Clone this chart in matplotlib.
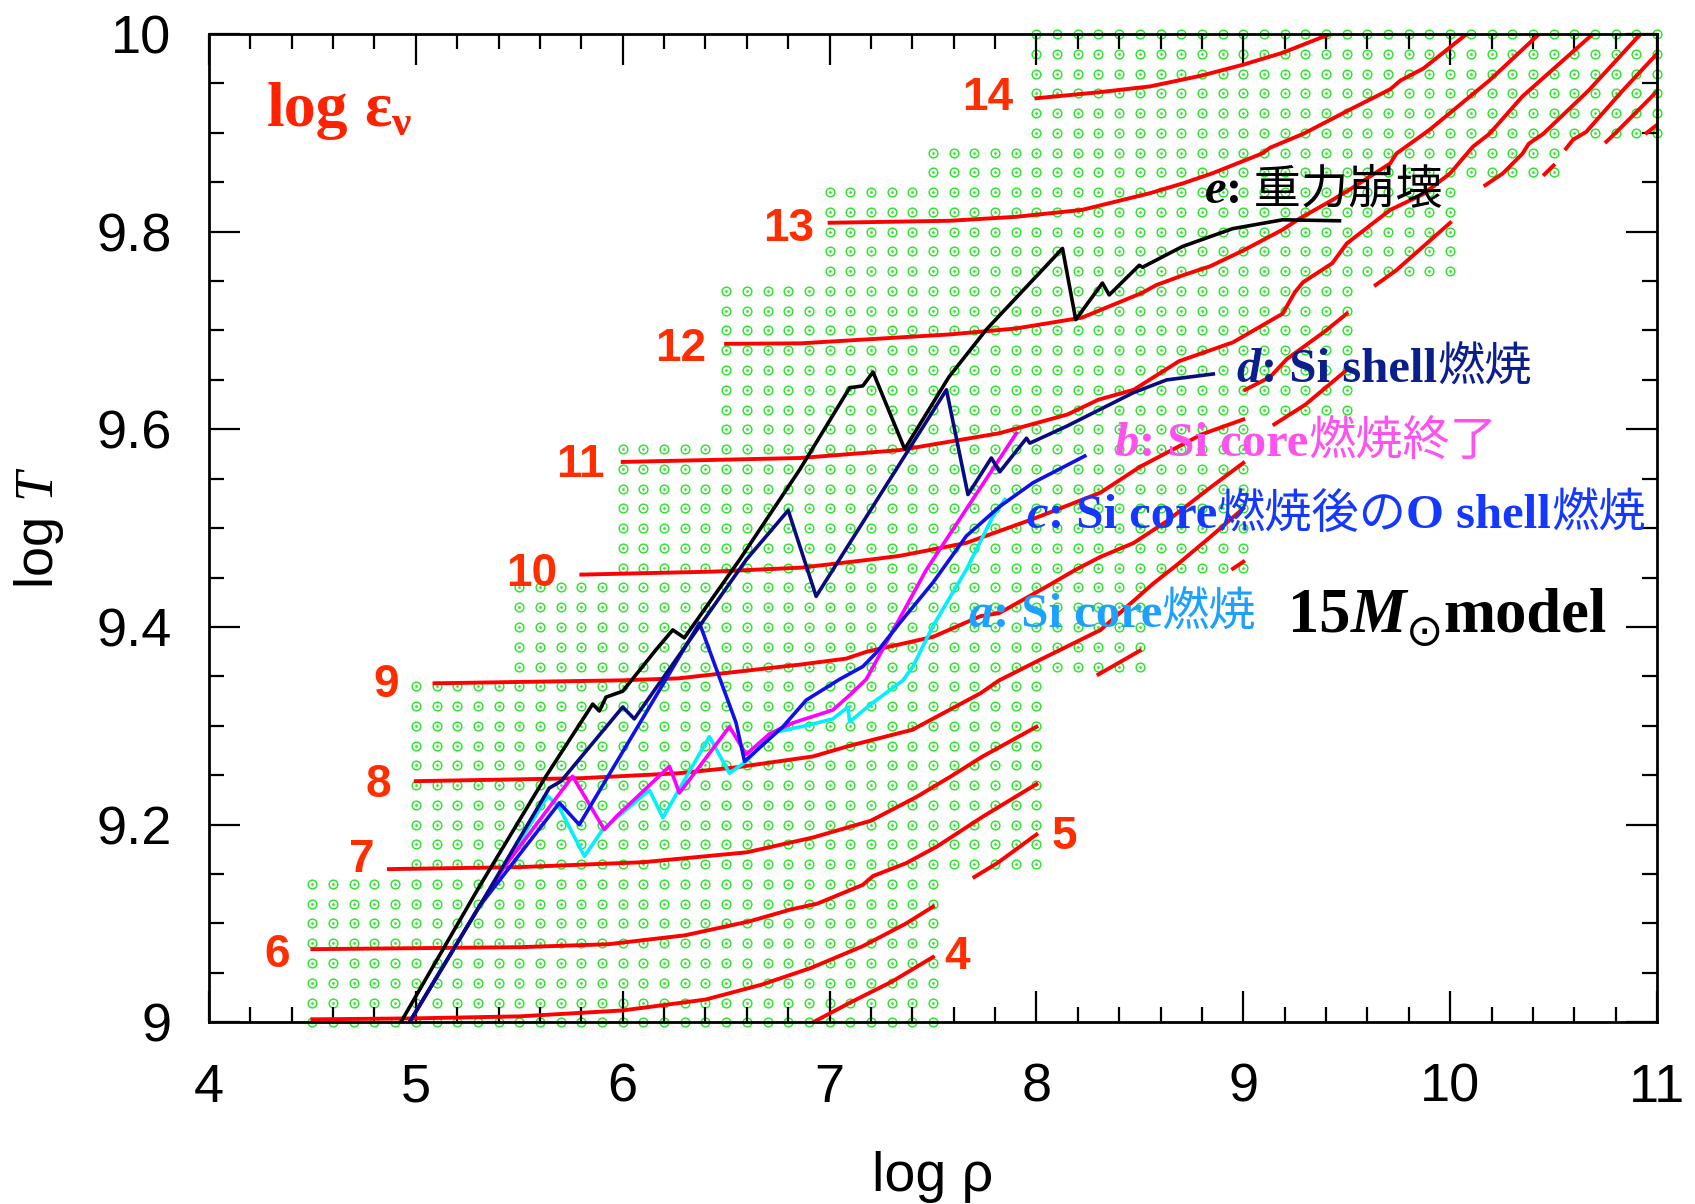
import numpy as np
import matplotlib
matplotlib.use('Agg')
import matplotlib.pyplot as plt
from matplotlib import transforms
from matplotlib.ticker import MultipleLocator, FuncFormatter

plt.rcParams['font.family'] = ['Liberation Sans', 'DejaVu Sans']
plt.rcParams['mathtext.fontset'] = 'custom'
plt.rcParams['mathtext.it'] = 'Liberation Serif:italic'
plt.rcParams['mathtext.rm'] = 'Liberation Sans'

# calculated grid: blocks of rows (log T) with their log rho limits
grid_left_Ttop = [9.14, 9.34, 9.44, 9.58, 9.74, 9.84, 9.88, 10.0]
grid_left_rho = [4.5, 5.0, 5.5, 6.0, 6.5, 7.0, 7.5, 8.0]
grid_right_Ttop = [9.14, 9.34, 9.44, 9.60, 9.74, 9.84, 9.88, 10.0]
grid_right_rho = [7.5, 8.0, 8.5, 9.0, 9.5, 10.0, 10.5, 11.0]
grid_dT = 0.02
grid_drho = 0.1

# log eps_nu contours (log rho, log T), one list per drawn piece
eps4 = [(6.92, 9.0), (7.10, 9.020), (7.30, 9.041), (7.50, 9.066)]
eps5_a = [(4.5, 9.003), (5.0, 9.004), (5.5, 9.006), (6.0, 9.012), (6.4, 9.023), (6.67, 9.038),
          (6.91, 9.055), (7.16, 9.077), (7.37, 9.100), (7.5, 9.117)]
eps5_b = [(7.70, 9.147), (7.81, 9.161), (8.0, 9.19)]
eps6 = [(4.5, 9.074), (5.0, 9.075), (5.5, 9.076), (5.93, 9.079), (6.30, 9.088), (6.61, 9.102),
        (6.81, 9.114), (6.94, 9.120), (7.16, 9.139), (7.21, 9.148), (7.37, 9.161), (7.52, 9.178),
        (7.74, 9.208), (8.0, 9.241)]
eps7_a = [(4.87, 9.155), (5.5, 9.157), (6.1, 9.162), (6.6, 9.172), (6.92, 9.187), (7.2, 9.204),
          (7.42, 9.228), (7.58, 9.248), (7.74, 9.269), (8.0, 9.299)]
eps7_b = [(8.30, 9.352), (8.5, 9.376)]
eps7_c = [(8.95, 9.459), (9.0, 9.466)]
eps7_d = [(10.95, 9.90), (11.0, 9.908)]
eps8_a = [(5.0, 9.244), (5.8, 9.247), (6.27, 9.252), (6.55, 9.258), (6.92, 9.269), (7.1, 9.280),
          (7.40, 9.296), (7.73, 9.333), (7.82, 9.346), (8.0, 9.365), (8.31, 9.397), (8.5, 9.432),
          (8.565, 9.444), (8.68, 9.463), (8.84, 9.491), (9.0, 9.52)]
eps8_b = [(10.755, 9.891), (10.80, 9.900), (11.0, 9.942)]
eps9_a = [(5.09, 9.343), (5.99, 9.346), (6.27, 9.348), (6.86, 9.362), (7.08, 9.368), (7.18, 9.375),
          (7.5, 9.39), (7.73, 9.411), (7.82, 9.414), (8.05, 9.441), (8.19, 9.458), (8.31, 9.471),
          (8.47, 9.485), (8.63, 9.507), (8.84, 9.541), (9.0, 9.566)]
eps9_b = [(9.15, 9.605), (9.30, 9.625), (9.50, 9.66)]
eps9_c = [(10.456, 9.858), (10.5, 9.867)]
eps9_d = [(10.56, 9.884), (10.594, 9.893), (10.658, 9.901), (10.835, 9.943), (11.0, 9.980)]
eps10_a = [(5.80, 9.453), (6.435, 9.456), (6.86, 9.46), (7.19, 9.468), (7.34, 9.472), (7.66, 9.485),
           (7.98, 9.509), (8.31, 9.536), (8.5, 9.562), (8.8, 9.595), (9.0, 9.61)]
eps10_b = [(9.01, 9.64), (9.13, 9.653), (9.21, 9.671), (9.40, 9.70), (9.5, 9.717)]
eps10_c = [(9.64, 9.746), (9.74, 9.761), (10.0, 9.809)]
eps10_d = [(10.17, 9.847), (10.255, 9.859), (10.35, 9.879), (10.38, 9.889), (10.45, 9.899),
           (10.67, 9.943), (10.92, 10.0)]
eps11 = [(6.0, 9.567), (6.86, 9.571), (7.34, 9.579), (7.82, 9.596), (8.15, 9.615), (8.30, 9.63),
         (8.47, 9.64), (8.69, 9.669), (8.95, 9.688), (9.19, 9.717), (9.25, 9.739), (9.29, 9.749),
         (9.43, 9.768), (9.50, 9.788), (9.71, 9.822), (9.87, 9.838), (10.0, 9.859), (10.11, 9.886),
         (10.19, 9.899), (10.35, 9.937), (10.69, 10.0)]
eps12 = [(6.5, 9.6865), (6.86, 9.687), (7.58, 9.696), (7.90, 9.702), (8.22, 9.713), (8.51, 9.738),
         (8.58, 9.746), (8.71, 9.756), (8.84, 9.765), (9.0, 9.781), (9.19, 9.802), (9.27, 9.813),
         (9.43, 9.832), (9.51, 9.842), (9.71, 9.869), (9.74, 9.879), (9.90, 9.903), (10.19, 9.953),
         (10.43, 10.0)]
eps13 = [(7.0, 9.809), (7.58, 9.811), (7.90, 9.815), (8.22, 9.822), (8.55, 9.839), (8.71, 9.849),
         (8.85, 9.859), (9.09, 9.879), (9.13, 9.885), (9.29, 9.899), (9.52, 9.924), (9.71, 9.944),
         (9.76, 9.953), (9.87, 9.965), (10.08, 10.0)]
eps14 = [(8.0, 9.935), (8.30, 9.941), (8.55, 9.947), (8.80, 9.958), (9.0, 9.969), (9.19, 9.981),
         (9.42, 10.0)]
eps_levels = ['4', '5', '6', '7', '8', '9', '10', '11', '12', '13', '14']

# central evolution tracks (log rho, log T)
track_a = [(4.969, 9.0), (5.306, 9.117), (5.45, 9.165), (5.637, 9.229), (5.694, 9.217), (5.815, 9.168),
           (5.903, 9.195), (6.129, 9.235), (6.194, 9.207), (6.419, 9.289), (6.516, 9.252),
           (6.597, 9.264), (6.726, 9.293), (6.903, 9.301), (7.016, 9.307), (7.089, 9.319),
           (7.097, 9.304), (7.194, 9.321), (7.355, 9.346), (7.403, 9.36), (7.5, 9.401),
           (7.661, 9.458), (7.79, 9.512), (7.847, 9.529)]
track_b = [(4.969, 9.0), (5.306, 9.117), (5.42, 9.155), (5.758, 9.249), (5.911, 9.195), (5.968, 9.208),
           (6.226, 9.259), (6.274, 9.232), (6.516, 9.299), (6.597, 9.271), (6.71, 9.292),
           (6.823, 9.303), (7.016, 9.316), (7.097, 9.331), (7.177, 9.347), (7.468, 9.458),
           (7.903, 9.596)]
track_c = [(4.969, 9.0), (5.306, 9.117), (5.694, 9.222), (5.79, 9.20), (6.371, 9.404), (6.548, 9.303),
           (6.589, 9.264), (6.774, 9.299), (6.887, 9.326), (7.048, 9.347), (7.161, 9.36),
           (7.226, 9.374), (7.339, 9.404), (7.5, 9.445), (7.661, 9.492), (7.823, 9.522),
           (7.984, 9.546), (8.234, 9.573)]
track_d = [(4.969, 9.0), (5.306, 9.117), (5.645, 9.237), (5.702, 9.244), (6.0, 9.319), (6.056, 9.307),
           (6.597, 9.468), (6.80, 9.518), (6.935, 9.431), (7.565, 9.64), (7.669, 9.534),
           (7.782, 9.571), (7.823, 9.557), (7.952, 9.591), (7.968, 9.586), (8.145, 9.603),
           (8.468, 9.637), (8.629, 9.65), (8.855, 9.656)]
track_e = [(4.927, 9.0), (5.306, 9.137), (5.629, 9.249), (5.855, 9.322), (5.887, 9.315), (5.919, 9.329),
           (6.0, 9.335), (6.161, 9.377), (6.242, 9.397), (6.298, 9.389), (6.565, 9.468),
           (6.855, 9.559), (7.097, 9.642), (7.161, 9.644), (7.21, 9.658), (7.363, 9.58),
           (7.577, 9.653), (7.758, 9.701), (8.126, 9.783), (8.19, 9.711), (8.319, 9.748),
           (8.352, 9.736), (8.497, 9.766), (8.513, 9.764), (8.706, 9.785), (8.948, 9.803),
           (9.19, 9.812), (9.465, 9.811)]

fig = plt.figure(figsize=(16.95, 12.04), dpi=100)
ax = fig.add_axes([209 / 1695, 1 - 1022.3 / 1204, 1448 / 1695, 988.3 / 1204])
ax.set_xlim(4, 11)
ax.set_ylim(9, 10)

# grid points
gx, gy = [], []
for i in range(51):
    T = round(9.0 + i * grid_dT, 2)
    lo = grid_left_rho[np.searchsorted(grid_left_Ttop, T - 1e-9)]
    hi = grid_right_rho[np.searchsorted(grid_right_Ttop, T - 1e-9)]
    n = int(round((hi - lo) / grid_drho))
    for k in range(n + 1):
        gx.append(lo + k * grid_drho)
        gy.append(T)
green = '#22e622'
ax.plot(gx, gy, 'o', mfc='none', mec=green, ms=6.3, mew=1.0, clip_on=False, zorder=1)
ax.plot(gx, gy, 'o', mfc=green, mec='none', ms=1.9, clip_on=False, zorder=1)

pieces = [eps4, eps5_a, eps5_b, eps6, eps7_a, eps7_b, eps7_c, eps7_d, eps8_a, eps8_b,
          eps9_a, eps9_b, eps9_c, eps9_d, eps10_a, eps10_b, eps10_c, eps10_d,
          eps11, eps12, eps13, eps14]
for p in pieces:
    xs, ys = zip(*p)
    ax.plot(xs, ys, color='#ff0000', lw=2.8, zorder=2)

lab_pos = [(7.617, 9.071), (8.137, 9.193), (4.327, 9.073), (4.74, 9.169), (4.817, 9.245),
           (4.857, 9.346), (5.558, 9.459), (5.794, 9.569), (6.28, 9.686), (6.80, 9.808),
           (7.766, 9.94)]
for s, (x, y) in zip(eps_levels, lab_pos):
    ax.text(x, y, s, color='#ff2d00', fontsize=33, fontweight='bold', ha='center',
            va='center_baseline', zorder=4)

for tr, col in [(track_a, '#00f0ff'), (track_b, '#ff00ff'), (track_c, '#1010e8'),
                (track_d, '#0a0a80'), (track_e, '#000000')]:
    xs, ys = zip(*tr)
    ax.plot(xs, ys, color=col, lw=2.6, zorder=3)

# axes styling
ax.xaxis.set_major_locator(MultipleLocator(1))
ax.xaxis.set_minor_locator(MultipleLocator(0.2))
ax.yaxis.set_major_locator(MultipleLocator(0.2))
ax.yaxis.set_minor_locator(MultipleLocator(0.05))
ax.yaxis.set_major_formatter(FuncFormatter(lambda v, p: f'{v:g}'))
ax.tick_params(which='both', direction='in', top=True, right=True, width=1.6)
ax.tick_params(which='major', length=22, labelsize=39)
ax.tick_params(which='minor', length=10.5)
ax.tick_params(axis='x', pad=29)
ax.tick_params(axis='y', pad=27)
for sp in ax.spines.values():
    sp.set_linewidth(2)

ax.set_xlabel('log ρ', fontsize=40)
ax.xaxis.set_label_coords(0.5, -0.13)
ax.set_ylabel('log $\\mathit{T}$', fontsize=39)
ax.yaxis.set_label_coords(-0.099, 0.5)

renderer = fig.canvas.get_renderer()
fonts = {
    'b': dict(family='Liberation Serif', weight='bold'),
    'bi': dict(family='Liberation Serif', weight='bold', style='italic'),
    'j': dict(family=['Noto Sans CJK JP', 'DejaVu Sans']),
    'sym': dict(family='DejaVu Sans'),
}


def label(x, y, parts, color):
    dx = 0.0
    for s, size, kind, dy in parts:
        tr = transforms.offset_copy(ax.transData, fig=fig, x=dx, y=dy, units='dots')
        t = ax.text(x, y, s, transform=tr, fontsize=size, color=color, va='baseline',
                    ha='left', zorder=5, **fonts[kind])
        dx += t.get_window_extent(renderer).width


label(4.281, 9.907, [('log', 46, 'b', 0), (' ε', 46, 'b', 0), ('ν', 31, 'b', -9)], '#ff2200')
label(8.814, 9.829, [('e', 35, 'bi', 0), (':', 35, 'b', 0), (' 重力崩壊', 34, 'j', 0)], '#000000')
label(8.968, 9.648, [('d', 35, 'bi', 0), (': Si shell', 35, 'b', 0), ('燃焼', 34, 'j', 0)], '#0a1e8c')
label(8.379, 9.573, [('b', 35, 'bi', 0), (': Si core', 35, 'b', 0), ('燃焼終了', 34, 'j', 0)], '#ff50f0')
label(7.952, 9.500, [('c', 35, 'bi', 0), (': Si core', 35, 'b', 0), ('燃焼後の', 34, 'j', 0),
                     ('O shell', 35, 'b', 0), ('燃焼', 34, 'j', 0)], '#1438ff')
label(7.670, 9.400, [('a', 35, 'bi', 0), (': Si core', 35, 'b', 0), ('燃焼', 34, 'j', 0)], '#1ea0ff')
label(9.218, 9.395, [('15', 45, 'b', 0), ('M', 45, 'bi', 0), ('⊙', 32, 'sym', -13),
                     ('model', 45, 'b', 0)], '#000000')

fig.savefig('out.png', dpi=100)
